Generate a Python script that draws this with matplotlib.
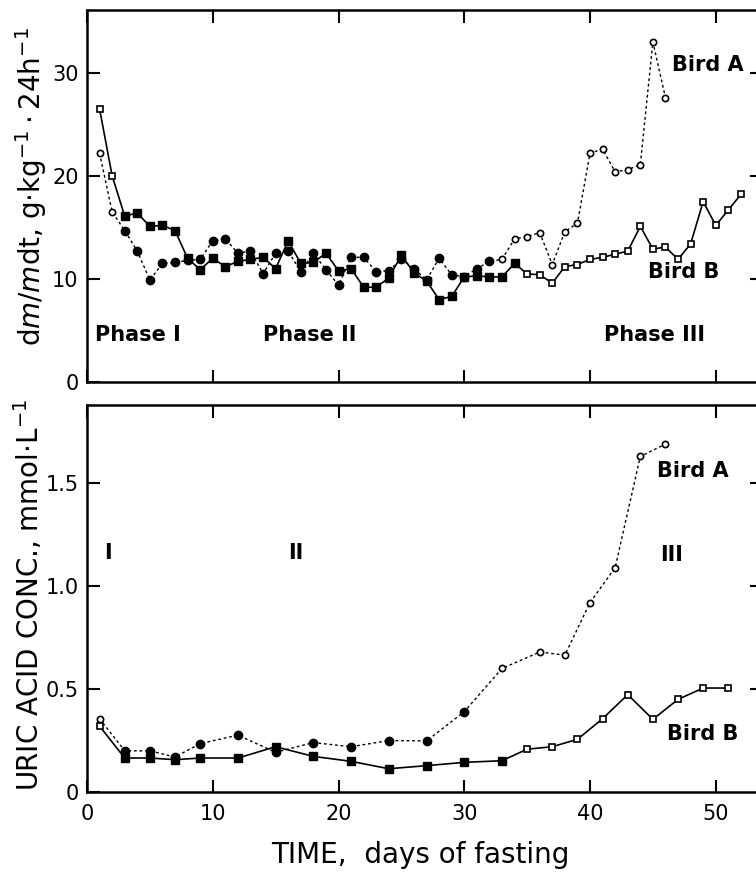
import numpy as np
import matplotlib
matplotlib.use('Agg')
import matplotlib.pyplot as plt

plt.rcParams['font.family'] = 'DejaVu Sans'

# ---- top panel: dm/mdt ----
top_a_days = [1, 2, 3, 4, 5, 6, 7, 8, 9, 10, 11, 12, 13, 14, 15, 16, 17, 18, 19, 20,
              21, 22, 23, 24, 25, 26, 27, 28, 29, 30, 31, 32, 33, 34, 35, 36, 37, 38,
              39, 40, 41, 42, 43, 44, 45, 46]
top_a_vals = [22.2, 16.5, 14.7, 12.7, 9.9, 11.5, 11.6, 11.8, 11.9, 13.7, 13.9, 12.5,
              12.7, 10.5, 12.5, 12.7, 10.7, 12.5, 10.9, 9.4, 12.1, 12.1, 10.7, 10.8,
              11.9, 11.0, 9.9, 12.0, 10.4, 10.2, 11.0, 11.7, 11.9, 13.9, 14.1, 14.5,
              11.4, 14.6, 15.4, 22.2, 22.6, 20.4, 20.6, 21.1, 33.0, 27.6]
top_b_days = [1, 2, 3, 4, 5, 6, 7, 8, 9, 10, 11, 12, 13, 14, 15, 16, 17, 18, 19, 20,
              21, 22, 23, 24, 25, 26, 27, 28, 29, 30, 31, 32, 33, 34, 35, 36, 37, 38,
              39, 40, 41, 42, 43, 44, 45, 46, 47, 48, 49, 50, 51, 52]
top_b_vals = [26.5, 20.0, 16.1, 16.4, 15.1, 15.2, 14.7, 12.0, 10.9, 12.0, 11.2, 11.7,
              11.9, 12.1, 11.0, 13.7, 11.5, 11.6, 12.5, 10.8, 11.0, 9.2, 9.2, 10.1,
              12.3, 10.6, 9.8, 8.0, 8.3, 10.2, 10.3, 10.2, 10.2, 11.5, 10.5, 10.4,
              9.6, 11.2, 11.4, 11.9, 12.1, 12.4, 12.7, 15.1, 12.9, 13.1, 11.9, 13.4,
              17.5, 15.2, 16.7, 18.2]
top_a_filled = (3, 32)   # days drawn with filled markers
top_b_filled = (3, 34)

# ---- bottom panel: uric acid ----
bot_a_days = [1, 3, 5, 7, 9, 12, 15, 18, 21, 24, 27, 30, 33, 36, 38, 40, 42, 44, 46]
bot_a_vals = [0.356, 0.20, 0.20, 0.17, 0.235, 0.276, 0.193, 0.24, 0.22, 0.25, 0.248,
              0.39, 0.60, 0.68, 0.665, 0.92, 1.09, 1.63, 1.69]
bot_b_days = [1, 3, 5, 7, 9, 12, 15, 18, 21, 24, 27, 30, 33, 35, 37, 39, 41, 43, 45,
              47, 49, 51]
bot_b_vals = [0.32, 0.165, 0.165, 0.157, 0.165, 0.165, 0.22, 0.173, 0.149, 0.113,
              0.128, 0.144, 0.152, 0.208, 0.22, 0.256, 0.356, 0.473, 0.353, 0.45,
              0.505, 0.505]
bot_a_filled = (3, 30)
bot_b_filled = (3, 33)

W, H = 756, 894
fig = plt.figure(figsize=(W / 100, H / 100), dpi=100)
left = 87 / W
width = 1 - left
ax1 = fig.add_axes([left, (H - 382) / H, width, 372 / H])
ax2 = fig.add_axes([left, (H - 792) / H, width, 387 / H])


def draw(ax, days, vals, filled, marker, ls, lw):
    d = np.array(days)
    v = np.array(vals)
    ax.plot(d, v, color='black', ls=ls, lw=lw, zorder=2)
    m = (d >= filled[0]) & (d <= filled[1])
    ax.plot(d[m], v[m], ls='none', marker=marker, ms=6, mfc='black', mec='black', zorder=3)
    ax.plot(d[~m], v[~m], ls='none', marker=marker, ms=4.5, mfc='white', mec='black',
            mew=1.2, zorder=3)


dotted = (0, (2, 2))
draw(ax1, top_a_days, top_a_vals, top_a_filled, 'o', dotted, 1.0)
draw(ax1, top_b_days, top_b_vals, top_b_filled, 's', '-', 1.2)
draw(ax2, bot_a_days, bot_a_vals, bot_a_filled, 'o', dotted, 1.0)
draw(ax2, bot_b_days, bot_b_vals, bot_b_filled, 's', '-', 1.2)

for ax, ylim, yt in [(ax1, (0, 36.1), [0, 10, 20, 30]),
                     (ax2, (0, 1.88), [0, 0.5, 1.0, 1.5])]:
    ax.set_xlim(0, 53.2)
    ax.set_ylim(*ylim)
    ax.set_xticks([0, 10, 20, 30, 40, 50])
    ax.set_yticks(yt)
    ax.spines['right'].set_visible(False)
    for s in ['left', 'top', 'bottom']:
        ax.spines[s].set_linewidth(1.8)
    ax.tick_params(direction='in', length=9, width=1.5, top=True, right=False,
                   labelsize=15)
    ax.tick_params(axis='y', pad=6)
    ax.tick_params(axis='x', pad=9)
    r = ax.twinx()
    r.set_ylim(*ylim)
    r.set_yticks(yt[1:])
    r.tick_params(direction='in', length=4, width=1.5, labelright=False)
    for s in r.spines.values():
        s.set_visible(False)

ax1.tick_params(axis='x', labelbottom=False)
ax1.set_yticklabels(['0', '10', '20', '30'])
ax2.set_yticklabels(['0', '0.5', '1.0', '1.5'])

bold = dict(fontsize=15, fontweight='bold', va='center', ha='left')
ax1.text(46.5, 30.8, 'Bird A', **bold)
ax1.text(44.6, 10.7, 'Bird B', **bold)
ax1.text(0.6, 4.6, 'Phase I', **bold)
ax1.text(14.0, 4.6, 'Phase II', **bold)
ax1.text(41.1, 4.6, 'Phase III', **bold)

ax2.text(1.65, 1.16, 'I', fontsize=15, fontweight='bold', va='center', ha='center')
ax2.text(16.6, 1.16, 'II', fontsize=15, fontweight='bold', va='center', ha='center')
ax2.text(46.5, 1.15, 'III', fontsize=15, fontweight='bold', va='center', ha='center')
ax2.text(45.3, 1.56, 'Bird A', **bold)
ax2.text(46.1, 0.284, 'Bird B', **bold)

fig.text(31 / W, 1 - 187 / H, r'd$m$/$m$dt, g$\cdot$kg$^{-1}\cdot$24h$^{-1}$',
         rotation=90, ha='center', va='center', fontsize=20)
fig.text(29 / W, 1 - 595 / H, r'URIC ACID CONC., mmol$\cdot$L$^{-1}$',
         rotation=90, ha='center', va='center', fontsize=20)
fig.text(420 / W, 1 - 855 / H, 'TIME,  days of fasting', ha='center', va='center',
         fontsize=20)

fig.savefig('out.png', dpi=100)
